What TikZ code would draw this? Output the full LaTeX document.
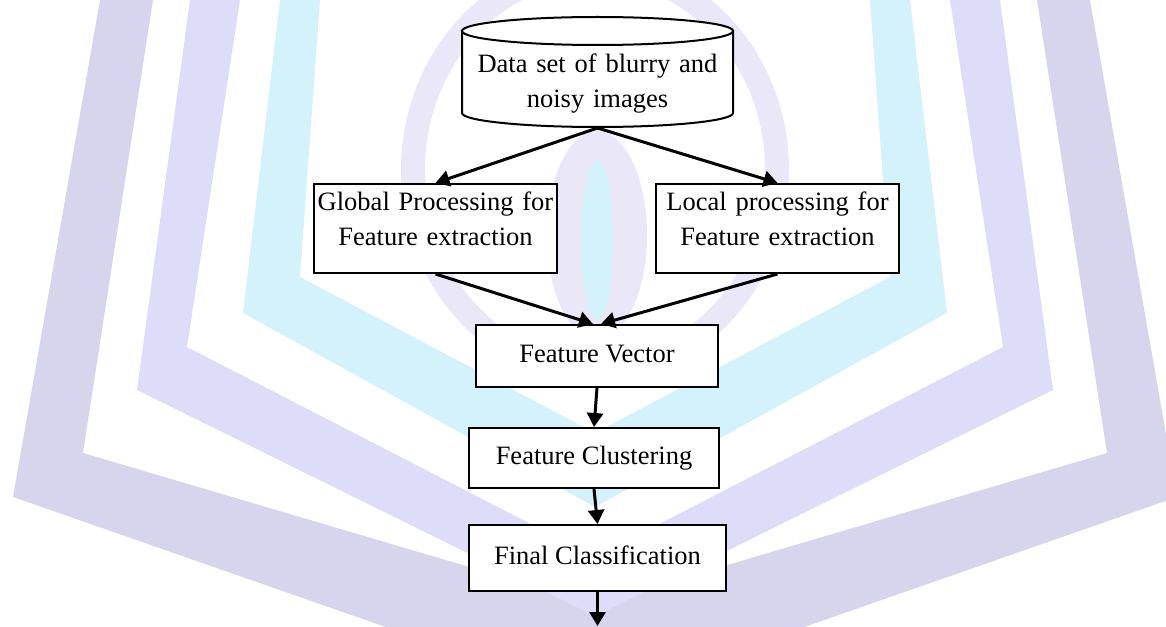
\documentclass[tikz,border=0pt]{standalone}
\usepackage{fontspec}
\setmainfont{Liberation Serif}
\usetikzlibrary{arrows.meta}
\definecolor{wmgrey}{HTML}{D7D4EE}
\definecolor{wmlav}{HTML}{DDDDF9}
\definecolor{wmring}{HTML}{E9E7F8}
\definecolor{wmcyan}{HTML}{D3F2FC}
\tikzset{
  box/.style={draw, line width=1pt, fill=white, inner sep=2pt,
    font=\fontsize{13.25pt}{17.5pt}\selectfont, text height=9pt, text depth=3pt},
  twoline/.style={box, text width=121.5pt, inner xsep=0pt, align=center, minimum width=121.5pt,
    minimum height=44.5pt, text depth=27.5pt},
  flow/.style={-{Triangle[length=7pt,width=8pt]}, line width=1.5pt},
}
\begin{document}
\begin{tikzpicture}[x=0.5pt,y=-0.5pt] % feature extraction flow
\useasboundingbox (0,0) rectangle (1166,626);
\def\dbtop{(597.5,31) ellipse [x radius=67.75pt, y radius=7pt]}
\def\dbbody{(462,31) -- (462,113) arc [start angle=180, end angle=360, x radius=67.75pt, y radius=7pt] -- (733,31) -- cycle}
    % watermark in the back
    \begin{scope}
        \clip (0,0) rectangle (1166,626);
        \fill[wmring] (597,235) ellipse [x radius=25pt, y radius=52pt];
        \draw[wmring, line width=12pt] (595,170) ellipse [x radius=91pt, y radius=100pt];
        \fill[wmcyan] (597,240) ellipse [x radius=8pt, y radius=40pt];
        \foreach \s in {1,-1} {
            \begin{scope}[shift={(595,0)}, xscale=\s]
                \fill[wmgrey] (-495,0) -- (-442,0) -- (-512,453) -- (0,604) -- (0,700) -- (-582,497) -- cycle;
                \fill[wmlav] (-405,0) -- (-355,0) -- (-408,347) -- (0,557) -- (0,616) -- (-458,390) -- cycle;
                \fill[wmcyan] (-315,0) -- (-275,0) -- (-295,277) -- (0,433) -- (0,507) -- (-352,313) -- cycle;
            \end{scope}
        }
    \end{scope}
    \filldraw[fill=white, line width=1pt] \dbbody;
    \filldraw[fill=white, line width=1pt] \dbtop;
    \node[twoline, draw=none, fill=none, text width=125pt, minimum width=135.5pt,
          minimum height=55pt, text depth=8pt] (data) at (597.5,72) {Data set of blurry and\\noisy images};
    \node[twoline] (global) at (435.5,228.5) {Global Processing for\\Feature extraction};
    \node[twoline] (local) at (777.5,228.5) {Local processing for\\Feature extraction};
    \node[box, minimum width=121pt, minimum height=31pt] (vector) at (597,356) {Feature Vector};
    \node[box, minimum width=125pt, minimum height=30pt] (cluster) at (594,458) {Feature Clustering};
    \node[box, minimum width=128.5pt, minimum height=33pt] (classify) at (597.5,558) {Final Classification};
    \coordinate (out) at (597.5,626);
    \draw[flow] (data.south) -- (global.north);
    \draw[flow] (data.south) -- (local.north);
    \draw[flow] (global.south) -- ([xshift=-2pt]vector.north);
    \draw[flow] (local.south) -- ([xshift=2pt]vector.north);
    \draw[flow] (vector.south) -- (cluster.north);
    \draw[flow] (cluster.south) -- (classify.north);
    \draw[flow] (classify.south) -- (out);
\end{tikzpicture}
\end{document}
